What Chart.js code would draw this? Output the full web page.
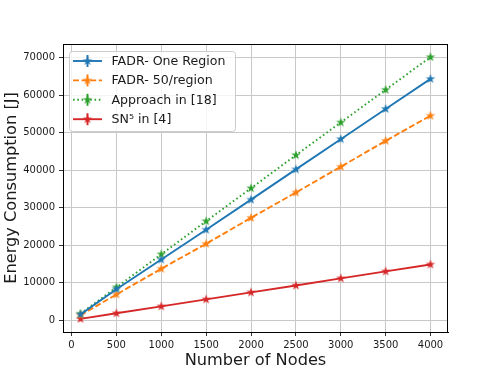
<!DOCTYPE html>
<html>
<head>
<meta charset="utf-8">
<script src="https://cdn.jsdelivr.net/npm/chart.js@4.4.1/dist/chart.umd.min.js"></script>
<style>
  html, body { margin: 0; padding: 0; background: #fff; }
  #wrap { width: 498px; height: 373px; }
</style>
</head>
<body>
<div id="wrap"><canvas id="energyChart" width="498" height="373"></canvas></div>
<script>
// data
const nodes = [100, 500, 1000, 1500, 2000, 2500, 3000, 3500, 4000];
const fadrOneRegion = [1600, 8300, 16200, 24150, 32150, 40200, 48250, 56300, 64300];
const fadr50 = [1400, 6900, 13750, 20400, 27300, 34050, 40900, 47800, 54500];
const approach18 = [1800, 8800, 17600, 26400, 35200, 44000, 52700, 61400, 70100];
const sn5 = [400, 1900, 3750, 5600, 7450, 9300, 11200, 13050, 14900];

const labels = ['FADR- One Region', 'FADR- 50/region', 'Approach in [18]', 'SN\u2075 in [4]'];
const xTicks = [0, 500, 1000, 1500, 2000, 2500, 3000, 3500, 4000];
const yTicks = [0, 10000, 20000, 30000, 40000, 50000, 60000, 70000];

const colors = ['#1f77b4', '#ff7f0e', '#2ca02c', '#d62728'];
const dashes = [[], [6, 2.6], [1.6, 2.7], []];
const FONT = "'DejaVu Sans', sans-serif";
const TEXT = '#1a1a1a';

// filled star marker like matplotlib '*'
const makeStar = (color, r) => {
    const c = document.createElement('canvas');
    const s = Math.ceil(r * 2 + 2);
    c.width = s; c.height = s;
    const g = c.getContext('2d');
    g.beginPath();
    for (let i = 0; i < 10; i++) {
        const rad = i % 2 === 0 ? r : r * 0.382;
        const a = -Math.PI / 2 + i * Math.PI / 5;
        const px = s / 2 + rad * Math.cos(a);
        const py = s / 2 + rad * Math.sin(a);
        if (i === 0) g.moveTo(px, py); else g.lineTo(px, py);
    }
    g.closePath();
    g.fillStyle = color;
    g.fill();
    return c;
};

const series = [fadrOneRegion, fadr50, approach18, sn5];
const stars = colors.map(c => makeStar(c, 5));

const datasets = series.map((vals, i) => ({
    label: labels[i],
    data: nodes.map((n, k) => ({ x: n, y: vals[k] })),
    borderColor: colors[i],
    backgroundColor: colors[i],
    borderWidth: 1.9,
    borderDash: dashes[i],
    pointStyle: stars[i],
    pointRadius: 4,
    tension: 0,
}));

// frame around the axes (matplotlib spines)
const framePlugin = {
    id: 'frame',
    afterDraw(chart) {
        const { ctx, chartArea: a } = chart;
        ctx.save();
        ctx.strokeStyle = '#000';
        ctx.lineWidth = 1;
        ctx.strokeRect(Math.round(a.left) + 0.5, Math.round(a.top) + 0.5,
            Math.round(a.right - a.left) - 1, Math.round(a.bottom - a.top));
        ctx.restore();
    }
};

// matplotlib style legend: line + marker + errorbar tick
const legendPlugin = {
    id: 'mplLegend',
    afterDraw(chart) {
        const ctx = chart.ctx;
        const bx = 69, by = 51, bw = 166, bh = 80;
        ctx.save();
        ctx.fillStyle = 'rgba(255,255,255,0.8)';
        ctx.strokeStyle = '#cccccc';
        ctx.lineWidth = 1;
        ctx.beginPath();
        ctx.roundRect(bx + 0.5, by + 0.5, bw, bh, 3);
        ctx.fill();
        ctx.stroke();

        chart.data.datasets.forEach((ds, i) => {
            const y = 61 + i * 19.4;
            ctx.strokeStyle = ds.borderColor;
            ctx.lineWidth = 1.9;
            ctx.setLineDash(ds.borderDash);
            ctx.beginPath();
            ctx.moveTo(73, y);
            ctx.lineTo(102, y);
            ctx.stroke();
            ctx.setLineDash([]);
            ctx.beginPath();
            ctx.moveTo(87.5, y - 6);
            ctx.lineTo(87.5, y + 6);
            ctx.stroke();
            const img = ds.pointStyle;
            ctx.drawImage(img, 87.5 - img.width / 2, y - img.height / 2);
            ctx.fillStyle = TEXT;
            ctx.font = '12.6px ' + FONT;
            ctx.textBaseline = 'middle';
            ctx.fillText(ds.label, 111.5, y + 0.5);
        });
        ctx.restore();
    }
};

new Chart(document.getElementById('energyChart'), {
    type: 'line',
    data: { datasets },
    options: {
        responsive: false,
        animation: false,
        layout: { padding: { top: 44, right: 50, left: 0, bottom: 0 } },
        plugins: { legend: { display: false }, tooltip: { enabled: false } },
        scales: {
            x: {
                type: 'linear',
                min: -95,
                max: 4195,
                afterBuildTicks: (axis) => { axis.ticks = xTicks.map(v => ({ value: v })); },
                afterFit: (axis) => { axis.height = 41; },
                grid: { color: '#c8c8c8', lineWidth: 1, tickLength: 4, tickColor: '#333' },
                border: { color: '#000', width: 1 },
                ticks: {
                    color: TEXT, padding: 3, maxRotation: 0, autoSkip: false,
                    font: { family: FONT, size: 10 },
                    callback: (v) => String(v),
                },
                title: {
                    display: true, text: 'Number of Nodes', color: TEXT,
                    font: { family: FONT, size: 16.2 }, padding: { top: 0, bottom: 2 },
                },
            },
            y: {
                type: 'linear',
                min: -3085,
                max: 73585,
                afterBuildTicks: (axis) => { axis.ticks = yTicks.map(v => ({ value: v })); },
                afterFit: (axis) => { axis.width = 63; },
                grid: { color: '#c8c8c8', lineWidth: 1, tickLength: 4, tickColor: '#333' },
                border: { color: '#000', width: 1 },
                ticks: {
                    color: TEXT, padding: 4, autoSkip: false,
                    font: { family: FONT, size: 10 },
                    callback: (v) => String(v),
                },
                title: {
                    display: true, text: 'Energy Consumption [J]', color: TEXT,
                    font: { family: FONT, size: 16.2 }, padding: { top: 2, bottom: 0 },
                },
            },
        },
    },
    plugins: [framePlugin, legendPlugin],
});
</script>
</body>
</html>
